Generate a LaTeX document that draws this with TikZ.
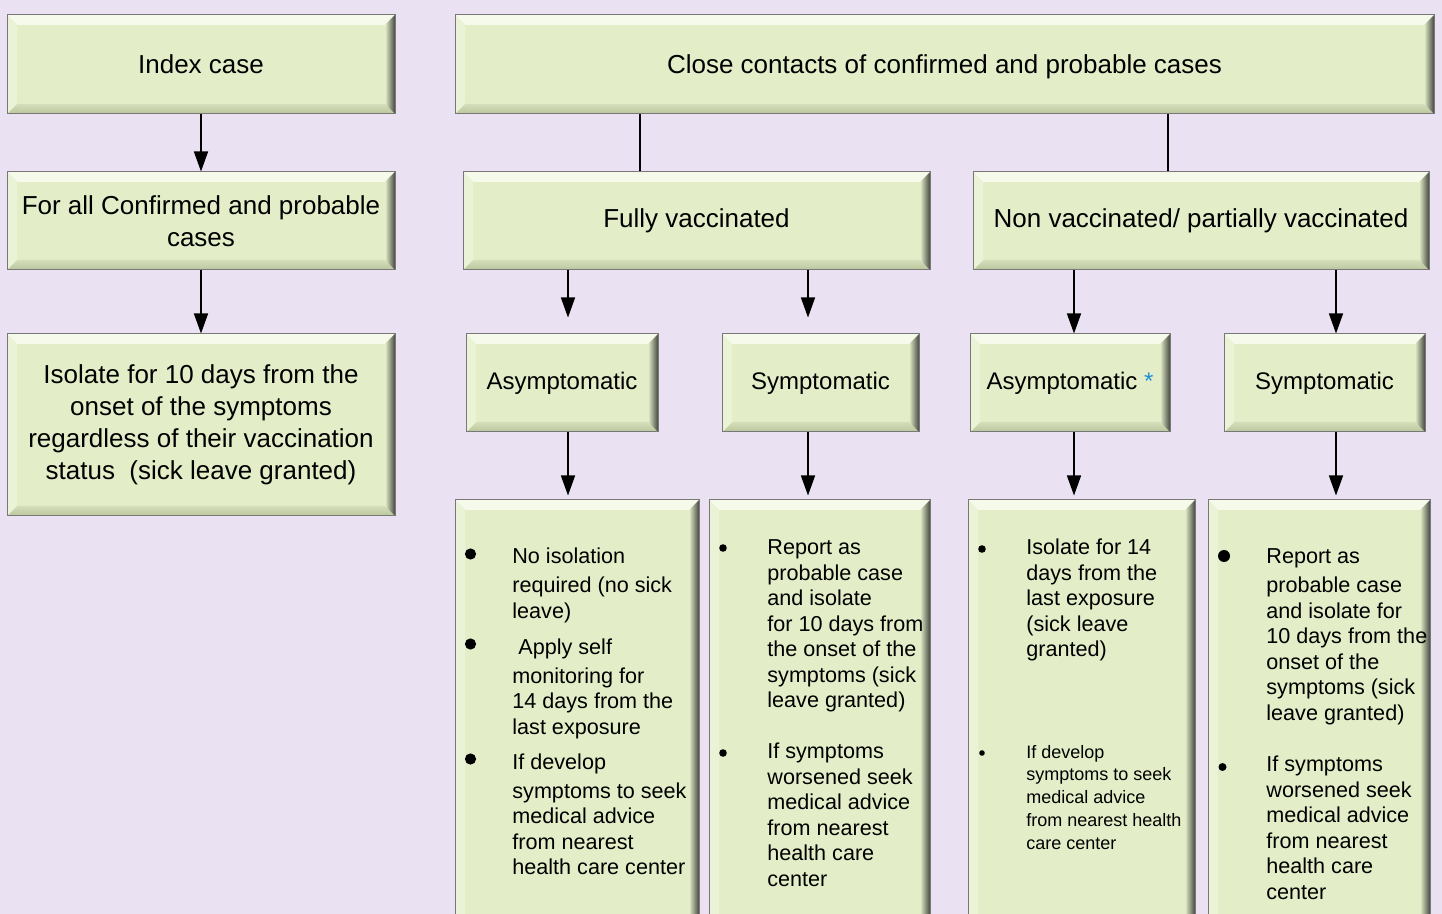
\documentclass[tikz,border=0pt]{standalone}
\usepackage{fontspec}
\setmainfont{Liberation Sans}
\usepackage{xcolor}
\usetikzlibrary{arrows.meta}

\definecolor{bgcol}{RGB}{234,226,243}
\definecolor{boxfill}{RGB}{227,238,200}
\definecolor{boxtop}{RGB}{246,250,234}
\definecolor{boxbottom}{RGB}{186,197,156}
\definecolor{boxbottomin}{RGB}{212,222,186}
\definecolor{boxleft}{RGB}{235,243,214}
\definecolor{boxmid}{RGB}{170,177,150}
\definecolor{boxdark}{RGB}{70,72,66}
\definecolor{boxedge}{RGB}{120,120,120}
\definecolor{starblue}{RGB}{30,144,210}

\newcommand{\hdfont}{\fontsize{13}{16}\selectfont}
\newcommand{\smfont}{\fontsize{12}{14}\selectfont}
\newcommand{\lsfont}{\fontsize{10.8}{12.75}\selectfont}
\newcommand{\ntfont}{\fontsize{9}{11.5}\selectfont}

\begin{document}
\begin{tikzpicture}[x=0.5pt, y=-0.5pt,
  bevelbox/.style={draw=boxedge, line width=0.5pt, fill=boxfill, inner sep=2pt, align=center,
    path picture={
      \coordinate (pp1) at (path picture bounding box.north west);
      \coordinate (pp2) at (path picture bounding box.north east);
      \coordinate (pp3) at (path picture bounding box.south east);
      \coordinate (pp4) at (path picture bounding box.south west);
      \fill[boxtop] (pp1) -- (pp2) -- ([shift={(-5pt,-5pt)}]pp2) -- ([shift={(5pt,-5pt)}]pp1) -- cycle;
      \shade[top color=boxbottomin, bottom color=boxbottom] (pp4) -- (pp3) -- ([shift={(-5pt,5pt)}]pp3) -- ([shift={(5pt,5pt)}]pp4) -- cycle;
      \fill[boxleft] (pp1) -- ([shift={(5pt,-5pt)}]pp1) -- ([shift={(5pt,5pt)}]pp4) -- (pp4) -- cycle;
      \shade[left color=boxfill, middle color=boxmid, right color=boxdark] (pp2) -- ([shift={(-5pt,-5pt)}]pp2) -- ([shift={(-5pt,5pt)}]pp3) -- (pp3) -- cycle;
    }},
  arr/.style={-{Triangle[length=10pt,width=7pt]}, line width=0.75pt},
  listtext/.style={anchor=base west, inner sep=0pt, font=\lsfont}]
\useasboundingbox (0,0) rectangle (1442,914);
\clip (0,0) rectangle (1442,914);
\fill[bgcol] (0,0) rectangle (1442,914);

% index case column
\node[bevelbox, font=\hdfont, minimum width=194pt, minimum height=49.5pt] (index) at (201,64.5) {Index case};
\node[bevelbox, font=\hdfont, minimum width=194pt, minimum height=49pt] (allcases) at (201,221) {For all Confirmed and probable\\cases};
\node[bevelbox, font=\hdfont, minimum width=194pt, minimum height=91pt] (isolate) at (201,425) {Isolate for 10 days from the\\onset of the symptoms\\regardless of their vaccination\\status~ (sick leave granted)};

% close contacts
\node[bevelbox, font=\hdfont, text depth=0pt, minimum width=489.5pt, minimum height=49.5pt] (contacts) at (944.5,64.5) {Close contacts of confirmed and probable cases};
\node[bevelbox, font=\hdfont, minimum width=233.5pt, minimum height=49pt] (fully) at (696.5,221) {Fully vaccinated};
\node[bevelbox, font=\hdfont, minimum width=228pt, minimum height=49pt] (nonvac) at (1201,221) {Non vaccinated/ partially vaccinated};

\node[bevelbox, font=\smfont, minimum width=96pt, minimum height=49pt] (asymfv) at (562,383) {Asymptomatic};
\node[bevelbox, font=\smfont, minimum width=98.5pt, minimum height=49pt] (symfv) at (820.5,383) {Symptomatic};
\node[bevelbox, font=\smfont, minimum width=100pt, minimum height=49pt] (asymnv) at (1070,383) {Asymptomatic \textcolor{starblue}{*}};
\node[bevelbox, font=\smfont, minimum width=100.5pt, minimum height=49pt] (symnv) at (1324.5,383) {Symptomatic};

\node[bevelbox, minimum width=122pt, minimum height=220pt] (adv1) at (577,720) {};
\node[bevelbox, minimum width=110.5pt, minimum height=220pt] (adv2) at (819.5,720) {};
\node[bevelbox, minimum width=113.5pt, minimum height=220pt] (adv3) at (1081.5,720) {};
\node[bevelbox, minimum width=111pt, minimum height=220pt] (adv4) at (1319,720) {};

% advice lists
\fill (470.5,554) circle (2.8pt) (470.5,644) circle (2.8pt) (470.5,759) circle (2.8pt);
\node[listtext] (list1) at (512,564) {\begin{tabular}[t]{@{}l@{}}
No isolation\\[1.75pt]
required (no sick\\
leave)\\[5.25pt]
\hspace{3pt}Apply self\\[1.75pt]
monitoring for\\
14 days from the\\
last exposure\\[4.75pt]
If develop\\[1.75pt]
symptoms to seek\\
medical advice\\
from nearest\\
health care center
\end{tabular}};

\fill (723,548) circle (1.9pt) (723,753) circle (1.9pt);
\node[listtext] (list2) at (767,555) {\begin{tabular}[t]{@{}l@{}}
Report as\\
probable case\\
and isolate\\
for 10 days from\\
the onset of the\\
symptoms (sick\\
leave granted)\\
\\
If symptoms\\
worsened seek\\
medical advice\\
from nearest\\
health care\\
center
\end{tabular}};

\fill (982,549) circle (1.9pt) (982,753) circle (1.4pt);
\node[listtext] (list3) at (1026,555) {\begin{tabular}[t]{@{}l@{}}
Isolate for 14\\
days from the\\
last exposure\\
(sick leave\\
granted)
\end{tabular}};
\node[listtext, font=\ntfont] (list3b) at (1026,758) {\begin{tabular}[t]{@{}l@{}}
If develop\\
symptoms to seek\\
medical advice\\
from nearest health\\
care center
\end{tabular}};

\fill (1224,556) circle (3pt) (1222.5,767) circle (2pt);
\node[listtext] (list4) at (1266,564) {\begin{tabular}[t]{@{}l@{}}
Report as\\[1.75pt]
probable case\\
and isolate for\\
10 days from the\\
onset of the\\
symptoms (sick\\
leave granted)\\[13pt]
If symptoms\\
worsened seek\\
medical advice\\
from nearest\\
health care\\
center
\end{tabular}};

% connectors
\coordinate (colA) at (568,0);
\coordinate (colB) at (808,0);
\coordinate (colC) at (1074,0);
\coordinate (colD) at (1336,0);
\coordinate (linkA) at (640,0);
\coordinate (linkB) at (1168,0);
\draw[arr] (index) -- (allcases);
\draw[arr] (allcases) -- (isolate);
\draw[line width=0.75pt] (contacts.south -| linkA) -- (fully.north -| linkA);
\draw[line width=0.75pt] (contacts.south -| linkB) -- (nonvac.north -| linkB);
\draw[arr, shorten >=8pt] (fully.south -| colA) -- (asymfv.north -| colA);
\draw[arr, shorten >=8pt] (fully.south -| colB) -- (symfv.north -| colB);
\draw[arr] (nonvac.south -| colC) -- (asymnv.north -| colC);
\draw[arr] (nonvac.south -| colD) -- (symnv.north -| colD);
\draw[arr, shorten >=2pt] (asymfv.south -| colA) -- (adv1.north -| colA);
\draw[arr, shorten >=2pt] (symfv.south -| colB) -- (adv2.north -| colB);
\draw[arr, shorten >=2pt] (asymnv.south -| colC) -- (adv3.north -| colC);
\draw[arr, shorten >=2pt] (symnv.south -| colD) -- (adv4.north -| colD);
\end{tikzpicture}
\end{document}
